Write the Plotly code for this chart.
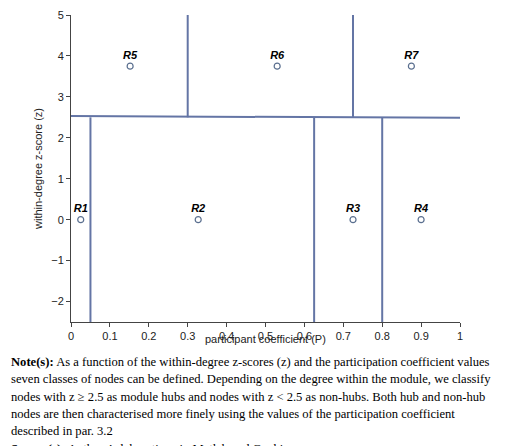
import plotly.graph_objects as go

names = ["R1", "R2", "R3", "R4", "R5", "R6", "R7"]
px_vals = [0.025, 0.327, 0.725, 0.9, 0.152, 0.53, 0.875]
z_vals = [0, 0, 0, 0, 3.75, 3.75, 3.75]
x_ticks = [0, 0.1, 0.2, 0.3, 0.4, 0.5, 0.6, 0.7, 0.8, 0.9, 1]
x_labels = ["0", "0.1", "0.2", "0.3", "0.4", "0.5", "0.6", "0.7", "0.8", "0.9", "1"]
y_ticks = [-2, -1, 0, 1, 2, 3, 4, 5]
y_labels = ["\u22122", "\u22121", "0", "1", "2", "3", "4", "5"]
# boundary lines: (x0, y0, x1, y1)
bounds = [(0, 2.53, 1.01, 2.49), (0.3, 2.5, 0.3, 5.1), (0.725, 2.5, 0.725, 5.1),
          (0.05, -2.5, 0.05, 2.5), (0.625, -2.5, 0.625, 2.5), (0.8, -2.5, 0.8, 2.5)]

notes = [
    "<b>Note(s):</b> As a function of the within-degree z-scores (z) and the participation coefficient values",
    "seven classes of nodes can be defined. Depending on the degree within the module, we classify",
    "nodes with z \u2265 2.5 as module hubs and nodes with z < 2.5 as non-hubs. Both hub and non-hub",
    "nodes are then characterised more finely using the values of the participation coefficient",
    "described in par. 3.2",
    "<b>Source(s):</b> Authors\u2019 elaborations in Matlab and Gephi",
]

W, H = 520, 446
L, R, T, B = 63, 68, 7, 132
pw, ph = W - L - R, H - T - B

def px_x(p):
    return (p - L) / pw

def px_y(p):
    return (H - B - p) / ph

fig = go.Figure()
for x0, y0, x1, y1 in bounds:
    fig.add_trace(go.Scatter(x=[x0, x1], y=[y0, y1], mode="lines",
                             line=dict(color="#6475a5", width=2), hoverinfo="skip", showlegend=False,
                             cliponaxis=False))
fig.add_trace(go.Scatter(x=px_vals, y=z_vals, mode="markers+text", text=["<b><i>%s</i></b>" % n for n in names],
                         textposition="top center",
                         textfont=dict(family="Liberation Sans, Arial", size=11, color="black"),
                         marker=dict(symbol="circle-open", size=6, color="#5a6f8f", line=dict(width=1.2)),
                         showlegend=False))

for i, t in enumerate(notes):
    fig.add_annotation(x=px_x(1), y=px_y(345 + i * 17.3), xref="paper", yref="paper",
                       text=t, showarrow=False, xanchor="left", yanchor="top", align="left",
                       font=dict(family="Liberation Serif, Times New Roman", size=12.6, color="black"))

fig.add_annotation(x=0.5, y=px_y(323), xref="paper", yref="paper", text="participant coefficient (P)",
                   showarrow=False, yanchor="top", font=dict(family="Liberation Sans, Arial", size=11, color="#222"))

fig.update_layout(
    width=W, height=H, margin=dict(l=L, r=R, t=T, b=B, autoexpand=False),
    plot_bgcolor="white", paper_bgcolor="white",
    xaxis=dict(range=[0, 1], tickvals=x_ticks, ticktext=x_labels, showgrid=False, zeroline=False,
               automargin=False,
               showline=True, linecolor="#444", ticks="outside", ticklen=4, tickcolor="#444",
               tickfont=dict(family="Liberation Sans, Arial", size=11, color="#222")),
    yaxis=dict(range=[-2.5, 5], tickvals=y_ticks, ticktext=y_labels, showgrid=False, zeroline=False,
               automargin=False,
               showline=True, linecolor="#444", ticks="outside", ticklen=4, tickcolor="#444",
               tickfont=dict(family="Liberation Sans, Arial", size=11, color="#222"),
               title=dict(text="within-degree z-score (z)", standoff=6,
                          font=dict(family="Liberation Sans, Arial", size=11, color="#222"))),
)
fig.write_html("out.html")
